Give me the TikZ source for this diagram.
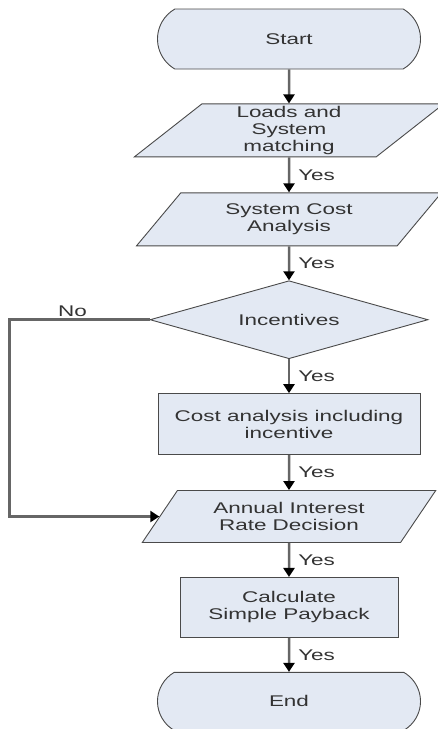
\documentclass[tikz,border=0pt]{standalone}
\usepackage{fontspec}
\setmainfont{Liberation Sans}[FakeStretch=1.45]
\usetikzlibrary{arrows.meta,positioning,shapes.geometric,shapes.misc}
\definecolor{boxfill}{HTML}{E3E9F3}
\definecolor{edge}{HTML}{4A4A4A}
\tikzset{
  term/.style={draw=edge, rounded rectangle, rounded rectangle arc length=120, fill=boxfill, minimum width=263pt, minimum height=60pt, inner sep=0pt},
  io/.style={draw=edge, trapezium, trapezium left angle=50, trapezium right angle=130, trapezium stretches=true, fill=boxfill, align=center, inner sep=0pt},
  proc/.style={draw=edge, rectangle, fill=boxfill, align=center, inner sep=0pt},
  dec/.style={draw=edge, diamond, aspect=3.5, fill=boxfill, inner sep=0pt},
  arr/.style={-{Triangle[length=9pt, width=11pt, color=black]}, line width=2.5pt, draw=black!60},
  lbl/.style={inner sep=2pt},
}

\begin{document}
\begin{tikzpicture}[font=\fontsize{15.5}{17}\selectfont, text=black!80, line width=0.9pt]
\useasboundingbox (0,0) rectangle (438pt,-729pt);
\node[term] (start) at (289pt,-39pt) {Start};
\node[io, below=34pt of start, minimum width=310pt, minimum height=53pt] (loads) {Loads and\\System\\matching};
\node[io, below=35pt of loads, minimum width=305pt, minimum height=53pt] (syscost) {System Cost\\Analysis};
\node[dec, below=34pt of syscost, minimum width=278pt, minimum height=78pt] (incent) {Incentives};
\node[proc, below=34pt of incent, minimum width=262pt, minimum height=61pt] (costinc) {Cost analysis including\\incentive};
\node[io, below=35pt of costinc, minimum width=294pt, minimum height=52pt] (annual) {Annual Interest\\Rate Decision};
\node[proc, below=34pt of annual, minimum width=218pt, minimum height=60pt] (payback) {Calculate\\Simple Payback};
\node[term, below=34pt of payback, minimum height=58pt] (stop) {End};
\coordinate[left=140pt of incent.west] (nocorner);

\draw[arr] (start) -- (loads);
\draw[arr] (loads) -- node[lbl, right=6pt]{Yes} (syscost);
\draw[arr] (syscost) -- node[lbl, right=6pt]{Yes} (incent);
\draw[arr] (incent) -- node[lbl, right=6pt]{Yes} (costinc);
\draw[arr] (costinc) -- node[lbl, right=6pt]{Yes} (annual);
\draw[arr] (annual) -- node[lbl, right=6pt]{Yes} (payback);
\draw[arr] (payback) -- node[lbl, right=6pt]{Yes} (stop);
\draw[arr] (incent.west) -- node[lbl, above, pos=0.55]{No} (nocorner) |- (annual.west);
\end{tikzpicture}
\end{document}
